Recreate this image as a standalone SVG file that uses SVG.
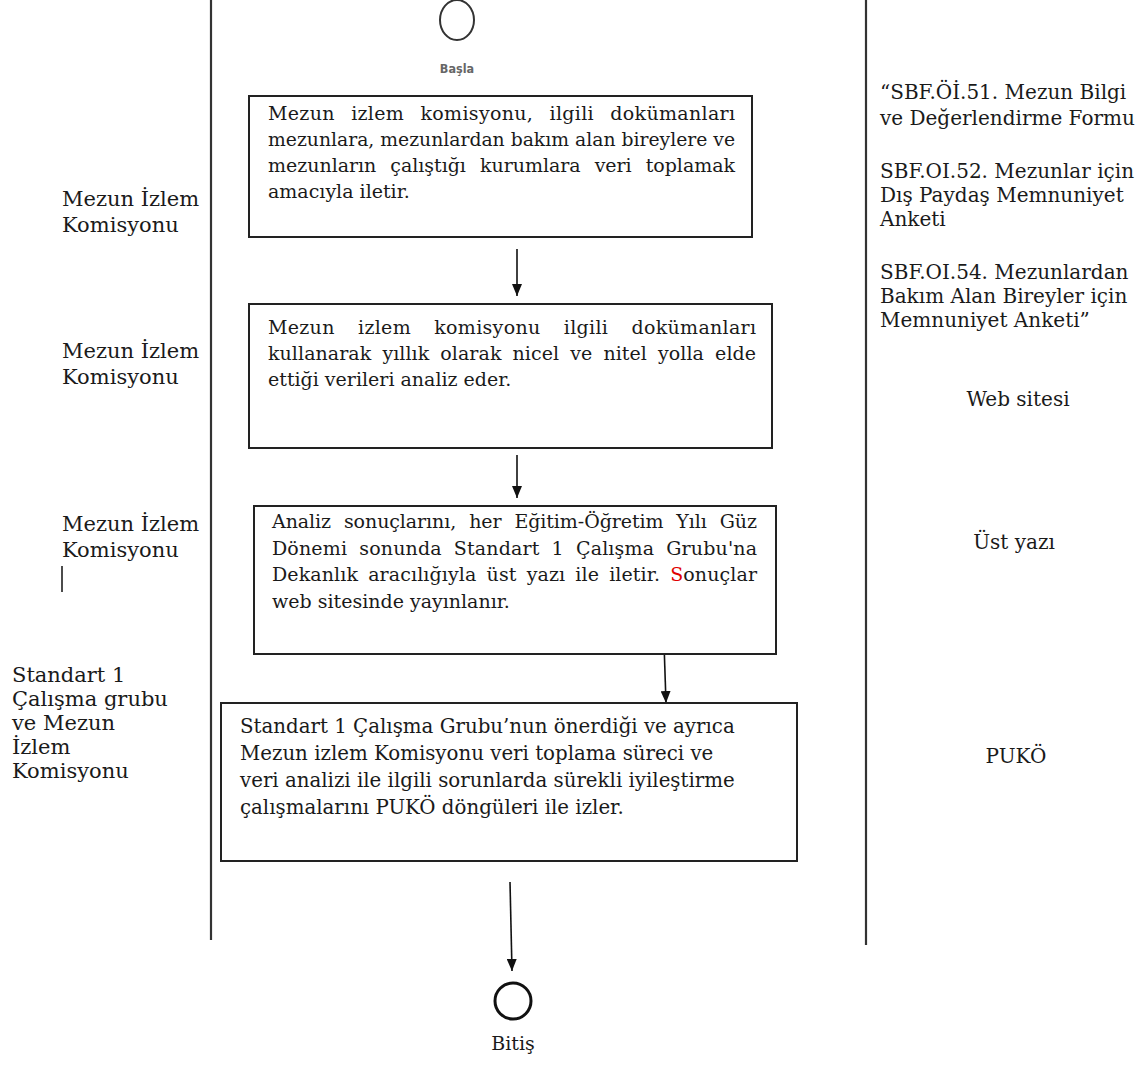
<svg xmlns="http://www.w3.org/2000/svg" width="1145" height="1070" viewBox="0 0 1145 1070">
<defs>
<marker id="ah" viewBox="0 0 12 10" refX="12" refY="5" markerWidth="12" markerHeight="10" markerUnits="userSpaceOnUse" orient="auto">
<path d="M0,0 L12,5 L0,10 Z" fill="#111"/>
</marker>
<style>
.t{font-family:"DejaVu Serif","Liberation Serif",serif;font-size:19px;fill:#1a1a1a}
.t4{font-family:"DejaVu Serif","Liberation Serif",serif;font-size:19.8px;fill:#1a1a1a}
.lbl{font-family:"DejaVu Serif","Liberation Serif",serif;font-size:21px;fill:#1a1a1a}
.r{font-family:"DejaVu Serif","Liberation Serif",serif;font-size:20px;fill:#1a1a1a}
.box{fill:#fff;stroke:#222;stroke-width:2}
.lane{stroke:#333;stroke-width:2.2}
.conn{stroke:#111;stroke-width:1.6;fill:none}
</style>
</defs>
<rect width="1145" height="1070" fill="#fff"/>
<g id="lanes">
<line class="lane" x1="211" y1="0" x2="211" y2="940"/>
<line class="lane" x1="866" y1="0" x2="866" y2="945"/>
</g>
<g id="start">
<ellipse cx="457" cy="20" rx="17" ry="20" fill="none" stroke="#333" stroke-width="2"/>
<text x="457" y="73" text-anchor="middle" font-family="DejaVu Sans Condensed,DejaVu Sans,sans-serif" font-weight="bold" font-size="12.5" fill="#666">Başla</text>
</g>
<g id="connectors">
<line class="conn" x1="517" y1="249" x2="517" y2="296" marker-end="url(#ah)"/>
<line class="conn" x1="517" y1="455" x2="517" y2="498" marker-end="url(#ah)"/>
<line class="conn" x1="664" y1="643" x2="666" y2="703" marker-end="url(#ah)"/>
<line class="conn" x1="510" y1="882" x2="512" y2="971" marker-end="url(#ah)"/>
</g>
<g id="box1">
<rect class="box" x="249" y="96" width="503" height="141"/>
<text class="t" x="268" y="120" word-spacing="10" textLength="467" lengthAdjust="spacing">Mezun izlem komisyonu, ilgili dokümanları</text>
<text class="t" x="268" y="146" textLength="467" lengthAdjust="spacingAndGlyphs">mezunlara, mezunlardan bakım alan bireylere ve</text>
<text class="t" x="268" y="172" word-spacing="8" textLength="467" lengthAdjust="spacing">mezunların çalıştığı kurumlara veri toplamak</text>
<text class="t" x="268" y="198">amacıyla iletir.</text>
</g>
<g id="box2">
<rect class="box" x="249" y="304" width="523" height="144"/>
<text class="t" x="268" y="334" word-spacing="17" textLength="488" lengthAdjust="spacing">Mezun izlem komisyonu ilgili dokümanları</text>
<text class="t" x="268" y="360" word-spacing="5" textLength="488" lengthAdjust="spacing">kullanarak yıllık olarak nicel ve nitel yolla elde</text>
<text class="t" x="268" y="386">ettiği verileri analiz eder.</text>
</g>
<g id="box3">
<rect class="box" x="254" y="506" width="522" height="148"/>
<text class="t" x="272" y="528" word-spacing="7" textLength="485" lengthAdjust="spacing">Analiz sonuçlarını, her Eğitim-Öğretim Yılı Güz</text>
<text class="t" x="272" y="555" word-spacing="6" textLength="485" lengthAdjust="spacing">Dönemi sonunda Standart 1 Çalışma Grubu'na</text>
<text class="t" x="272" y="581" word-spacing="4" textLength="485" lengthAdjust="spacing">Dekanlık aracılığıyla üst yazı ile iletir. <tspan fill="#e00000">S</tspan>onuçlar</text>
<text class="t" x="272" y="608">web sitesinde yayınlanır.</text>
</g>
<g id="box4">
<rect class="box" x="221" y="703" width="576" height="158"/>
<text class="t4" x="240" y="733">Standart 1 Çalışma Grubu’nun önerdiği ve ayrıca</text>
<text class="t4" x="240" y="760">Mezun izlem Komisyonu veri toplama süreci ve</text>
<text class="t4" x="240" y="787">veri analizi ile ilgili sorunlarda sürekli iyileştirme</text>
<text class="t4" x="240" y="814">çalışmalarını PUKÖ döngüleri ile izler.</text>
</g>
<g id="end">
<circle cx="513" cy="1001" r="18" fill="none" stroke="#111" stroke-width="3"/>
<text class="t" x="513" y="1050" text-anchor="middle">Bitiş</text>
</g>
<g id="actors">
<text class="lbl" x="62" y="206">Mezun İzlem</text>
<text class="lbl" x="62" y="232">Komisyonu</text>
<text class="lbl" x="62" y="358">Mezun İzlem</text>
<text class="lbl" x="62" y="384">Komisyonu</text>
<text class="lbl" x="62" y="531">Mezun İzlem</text>
<text class="lbl" x="62" y="557">Komisyonu</text>
<line x1="62" y1="566" x2="62" y2="592" stroke="#111" stroke-width="1.5"/>
<text class="lbl" x="12" y="682">Standart 1</text>
<text class="lbl" x="12" y="706">Çalışma grubu</text>
<text class="lbl" x="12" y="730">ve Mezun</text>
<text class="lbl" x="12" y="754">İzlem</text>
<text class="lbl" x="12" y="778">Komisyonu</text>
</g>
<g id="documents">
<text class="r" x="880" y="99">“SBF.Öİ.51. Mezun Bilgi</text>
<text class="r" x="880" y="125">ve Değerlendirme Formu</text>
<text class="r" x="880" y="178">SBF.OI.52. Mezunlar için</text>
<text class="r" x="880" y="202">Dış Paydaş Memnuniyet</text>
<text class="r" x="880" y="226">Anketi</text>
<text class="r" x="880" y="279">SBF.OI.54. Mezunlardan</text>
<text class="r" x="880" y="303">Bakım Alan Bireyler için</text>
<text class="r" x="880" y="327">Memnuniyet Anketi”</text>
<text class="r" x="1018" y="406" text-anchor="middle">Web sitesi</text>
<text class="r" x="1014" y="549" text-anchor="middle">Üst yazı</text>
<text class="r" x="1016" y="763" text-anchor="middle">PUKÖ</text>
</g>
</svg>
